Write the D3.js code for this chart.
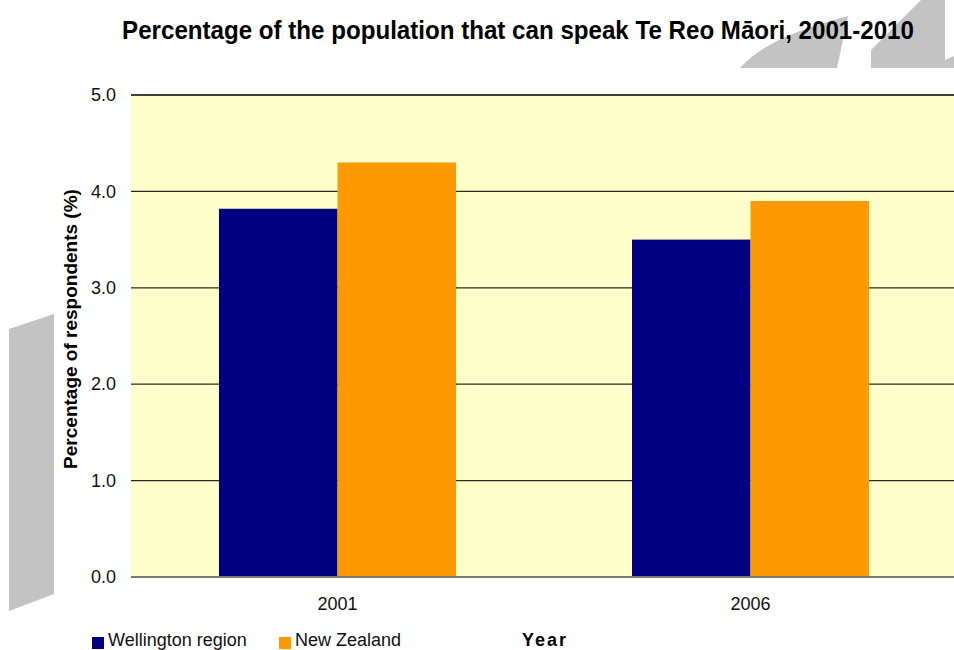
<!DOCTYPE html>
<html>
<head>
<meta charset="utf-8">
<script src="https://cdn.jsdelivr.net/npm/d3@7"></script>
<style>
  html, body { margin: 0; padding: 0; background: #ffffff; }
  svg { display: block; }
</style>
</head>
<body>
<script>
// Data
const years = ["2001", "2006"];
const seriesNames = ["Wellington region", "New Zealand"];
const wellingtonByYear = [3.82, 3.5];
const newZealandByYear = [4.3, 3.9];
const seriesColors = ["#000080", "#FF9900"];
const yTicks = [0, 1, 2, 3, 4, 5];

const valuesBySeries = [wellingtonByYear, newZealandByYear];

const W = 954, H = 650;
const plot = { left: 131, right: 957, top: 95, bottom: 577 };
const FONT = "Liberation Sans, Arial, sans-serif";

const svg = d3.select("body").append("svg")
  .attr("width", W).attr("height", H);

// Decorative grey shapes
const deco = svg.append("g").attr("fill", "#c3c3c3");
deco.append("path").attr("d", "M9,329 L54,314 L54,594 L9,611 Z");
deco.append("path").attr("d", "M740,68 C762,44 796,30 848,16 L837,68 Z");
deco.append("path").attr("d", "M871,68 L871,50 L921,0 L945,0 L945,60 L954,56 L954,68 Z");

const x0 = d3.scaleBand().domain(years)
  .range([plot.left, plot.right])
  .paddingInner(0.426).paddingOuter(0.213);
const x1 = d3.scaleBand().domain(seriesNames)
  .range([0, x0.bandwidth()]).padding(0);
const y = d3.scaleLinear().domain([0, 5]).range([plot.bottom, plot.top]);

// Plot background
svg.append("rect")
  .attr("x", plot.left).attr("y", plot.top)
  .attr("width", plot.right - plot.left).attr("height", plot.bottom - plot.top)
  .attr("fill", "#FFFFCC");

// Gridlines
svg.append("g").selectAll("line")
  .data(yTicks.filter(d => d > 0))
  .join("line")
  .attr("x1", plot.left).attr("x2", plot.right)
  .attr("y1", d => y(d)).attr("y2", d => y(d))
  .attr("stroke", d => d === 5 ? "#000" : "#2a2a22")
  .attr("stroke-width", 1.3);

// Bars
const rows = years.map((yr, i) => ({ year: yr, vals: seriesNames.map((s, j) => ({ s, j, v: valuesBySeries[j][i] })) }));
svg.append("g").selectAll("g")
  .data(rows).join("g")
  .attr("transform", d => `translate(${x0(d.year)},0)`)
  .selectAll("rect")
  .data(d => d.vals).join("rect")
  .attr("x", d => x1(d.s))
  .attr("width", x1.bandwidth())
  .attr("y", d => y(d.v))
  .attr("height", d => y(0) - y(d.v))
  .attr("fill", d => seriesColors[d.j]);

// Baseline
svg.append("line")
  .attr("x1", plot.left).attr("x2", plot.right)
  .attr("y1", y(0)).attr("y2", y(0))
  .attr("stroke", "#7c7c6c").attr("stroke-width", 2);

// Y axis labels
const yAxis = d3.axisLeft(y).tickValues(yTicks).tickFormat(d3.format(".1f")).tickSize(0).tickPadding(15);
const ya = svg.append("g").attr("transform", `translate(${plot.left},0)`).call(yAxis);
ya.select(".domain").remove();
ya.selectAll("text").attr("font-family", FONT)
  .attr("font-size", 18).attr("fill", "#111");

// X axis labels
const xAxis = d3.axisBottom(x0).tickSize(0).tickPadding(20);
const xa = svg.append("g").attr("transform", `translate(0,${plot.bottom})`).call(xAxis);
xa.select(".domain").remove();
xa.selectAll("text").attr("font-family", FONT)
  .attr("font-size", 18).attr("fill", "#111");

// Title: condensed bold, narrowed horizontally
const title = svg.append("text")
  .attr("text-anchor", "middle")
  .attr("font-family", FONT)
  .attr("font-weight", "bold").attr("font-size", 26)
  .attr("fill", "#000")
  .text("Percentage of the population that can speak Te Reo Māori, 2001-2010");
const tw = title.node().getComputedTextLength();
title.attr("transform", `translate(518,39) scale(${792 / tw},1)`);

// Y axis title
svg.append("text")
  .attr("transform", "translate(77,329) rotate(-90)")
  .attr("text-anchor", "middle")
  .attr("font-family", FONT)
  .attr("font-weight", "bold").attr("font-size", 19)
  .attr("fill", "#000")
  .text("Percentage of respondents (%)");

// X axis title
svg.append("text")
  .attr("x", 522).attr("y", 646)
  .attr("font-family", FONT)
  .attr("font-weight", "bold").attr("font-size", 18)
  .attr("letter-spacing", 2)
  .attr("fill", "#000")
  .text("Year");

// Legend
const legendX = [92, 279];
const lg = svg.append("g").selectAll("g")
  .data(seriesNames).join("g")
  .attr("transform", (d, i) => `translate(${legendX[i]},637)`);
lg.append("rect").attr("width", 12).attr("height", 12)
  .attr("fill", (d, i) => seriesColors[i]);
lg.append("text").attr("x", 16).attr("y", 9)
  .attr("font-family", FONT)
  .attr("font-size", 18).attr("fill", "#111")
  .text(d => d);
</script>
</body>
</html>
